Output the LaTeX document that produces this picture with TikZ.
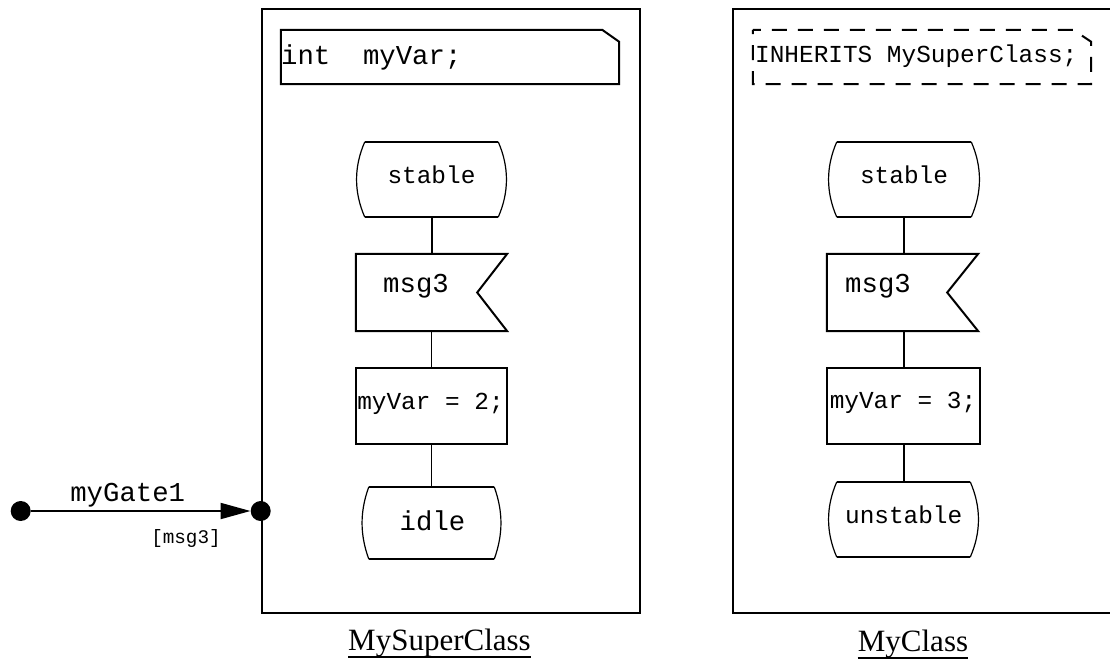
\documentclass[tikz,border=0pt]{standalone}
\usepackage{fontspec}
\setmainfont{Liberation Serif}
\setmonofont{Liberation Mono}
\usetikzlibrary{arrows.meta,calc}
\tikzset{
  frameline/.style={line width=2pt},
  thickl/.style={line width=2pt},
  thinl/.style={line width=1.1pt},
  sidel/.style={line width=1.2pt},
  shapebox/.style={draw=none, inner sep=0pt},
  txa/.style={font=\fontsize{24.4}{28}\selectfont\ttfamily, inner sep=0pt, anchor=base},
  txb/.style={font=\fontsize{27.3}{32}\selectfont\ttfamily, inner sep=0pt, anchor=base},
  txc/.style={font=\fontsize{19.3}{22}\selectfont\ttfamily, inner sep=0pt, anchor=base},
  capt/.style={font=\fontsize{31}{36}\selectfont, inner sep=0pt, anchor=base},
  gatedot/.style={circle, fill=black, inner sep=0pt, minimum size=20pt}
}
\newcommand\stateoutline[2]{%
  \draw[thickl] ($(#1.north west)+(#2,0)$) -- ($(#1.north east)+(-#2,0)$);
  \draw[thickl] ($(#1.south west)+(#2,0)$) -- ($(#1.south east)+(-#2,0)$);
  \draw[sidel] ($(#1.north east)+(-#2,0)$) .. controls ($(#1.north east)+(2,25)$) and ($(#1.south east)+(2,-25)$) .. ($(#1.south east)+(-#2,0)$);
  \draw[sidel] ($(#1.north west)+(#2,0)$) .. controls ($(#1.north west)+(-2,25)$) and ($(#1.south west)+(-2,-25)$) .. ($(#1.south west)+(#2,0)$);
}
\newcommand\inputoutline[2]{%
  \draw[thickl] (#1.north west) -- (#1.north east) -- ($(#1.east)+(-#2,0)$) -- (#1.south east) -- (#1.south west) -- cycle;
}
\begin{document}
\begin{tikzpicture}[x=1pt,y=-1pt]
\useasboundingbox (0,0) rectangle (1110,661);
% frames
\node[draw, frameline, inner sep=0pt, minimum width=378pt, minimum height=604pt] (f1) at (451,311) {};
\draw[frameline] (1114,9) -- (733,9) -- (733,613) -- (1114,613);
% declaration boxes
\node[shapebox, minimum width=338pt, minimum height=54pt] (t1) at (450,57) {};
\draw[thickl] (t1.south west) -- (t1.north west) -- ($(t1.north east)+(-17,0)$) -- ($(t1.north east)+(0,12)$) -- (t1.south east) -- cycle;
\node[txb, anchor=base west] (t1x) at (281,64) {int~~myVar;};
\node[shapebox, minimum width=338pt, minimum height=54pt] (t2) at (922,57) {};
\draw[thickl, dash pattern=on 15pt off 11pt, dash phase=7pt] (t2.north west) -- ($(t2.north east)+(-18,0)$) -- ($(t2.north east)+(0,12)$) -- (t2.south east) -- (t2.south west) -- cycle;
\node[txa, anchor=base west] (t2x) at (755,63) {INHERITS MySuperClass;};
% left flow
\node[shapebox, minimum width=151pt, minimum height=75pt] (st1) at (431.5,179.5) {};
\stateoutline{st1}{9}
\node[txa] (st1x) at (431.5,183) {stable};
\node[shapebox, minimum width=151pt, minimum height=77pt] (m1) at (431.5,292.5) {};
\inputoutline{m1}{30}
\node[txb] (m1x) at (416,292) {msg3};
\node[shapebox, minimum width=151pt, minimum height=76pt] (a1) at (431.5,406) {};
\draw[thickl] (a1.north west) rectangle (a1.south east);
\node[txa] (a1x) at (430.5,409) {myVar = 2;};
\node[shapebox, minimum width=139pt, minimum height=72pt] (i1) at (431.5,523) {};
\stateoutline{i1}{7}
\node[txb] (i1x) at (432.5,530) {idle};
\draw[thickl] (st1.south) -- (m1.north);
\draw[thinl] (m1.south) -- (a1.north);
\draw[thinl] (a1.south) -- (i1.north);
% right flow
\node[shapebox, minimum width=152pt, minimum height=75pt] (st2) at (904,179.5) {};
\stateoutline{st2}{9}
\node[txa] (st2x) at (904,183) {stable};
\node[shapebox, minimum width=151pt, minimum height=77pt] (m2) at (902.5,292.5) {};
\inputoutline{m2}{31}
\node[txb] (m2x) at (878,292) {msg3};
\node[shapebox, minimum width=153pt, minimum height=76pt] (a2) at (903.5,406) {};
\draw[thickl] (a2.north west) rectangle (a2.south east);
\node[txa] (a2x) at (903,408) {myVar = 3;};
\node[shapebox, minimum width=151pt, minimum height=75pt] (u2) at (903.5,519.5) {};
\stateoutline{u2}{9}
\node[txa] (u2x) at (903.7,523) {unstable};
\draw[thickl] (m2.north -| a2.north) -- (st2.south -| a2.north);
\draw[thickl] (m2.south -| a2.north) -- (a2.north);
\draw[thickl] (a2.south) -- (u2.north -| a2.south);
% gate
\node[gatedot] (g1) at (20.7,511) {};
\node[gatedot] (g2) at (260.7,511) {};
\draw[thickl, -{Triangle[length=30pt,width=16pt]}] (g1) -- (g2);
\node[txb] (gl) at (127.7,501) {myGate1};
\node[txc] (gs) at (186,543) {[msg3]};
% captions
\node[capt] (c1) at (439.5,650) {MySuperClass};
\draw[line width=1.5pt] ($(c1.base west)+(0,7)$) -- ($(c1.base east)+(0,7)$);
\node[capt] (c2) at (913,651) {MyClass};
\draw[line width=1.5pt] ($(c2.base west)+(0,7)$) -- ($(c2.base east)+(0,7)$);
\end{tikzpicture}
\end{document}
